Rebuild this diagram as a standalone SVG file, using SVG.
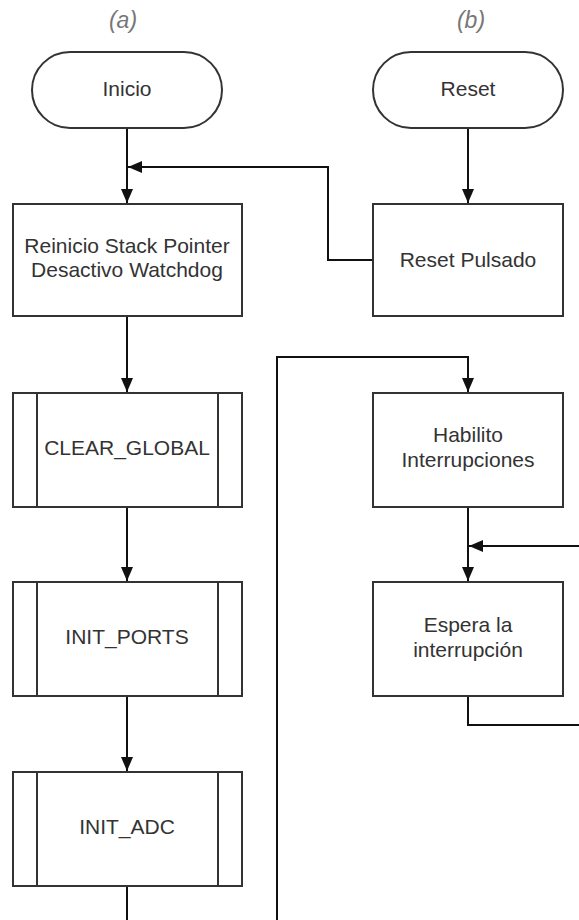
<svg xmlns="http://www.w3.org/2000/svg" width="579" height="920" viewBox="0 0 579 920">
<defs>
<style>
.box{fill:#fff;stroke:#333;stroke-width:2}
.ln{fill:none;stroke:#111;stroke-width:2}
.t{font-family:"Liberation Sans",Arial,sans-serif;font-size:21px;fill:#333;text-anchor:middle}
.cap{font-family:"Liberation Sans",Arial,sans-serif;font-size:23px;font-style:italic;fill:#777;text-anchor:middle}
</style>
<marker id="arr" viewBox="0 0 14 12" refX="14" refY="6" markerWidth="14" markerHeight="12" markerUnits="userSpaceOnUse" orient="auto">
<path d="M0,0 L14,6 L0,12 z" fill="#111"/>
</marker>
</defs>
<rect width="579" height="920" fill="#fff"/>
<text class="cap" x="123" y="28">(a)</text>
<text class="cap" x="471" y="28">(b)</text>

<g id="connectors">
<line class="ln" x1="127" y1="128" x2="127" y2="203" marker-end="url(#arr)"/>
<line class="ln" x1="468" y1="128" x2="468" y2="203" marker-end="url(#arr)"/>
<polyline class="ln" points="373,260 328,260 328,167 128,167" marker-end="url(#arr)"/>
<line class="ln" x1="127" y1="316" x2="127" y2="392" marker-end="url(#arr)"/>
<line class="ln" x1="127" y1="507" x2="127" y2="581" marker-end="url(#arr)"/>
<line class="ln" x1="127" y1="696" x2="127" y2="771" marker-end="url(#arr)"/>
<line class="ln" x1="127" y1="886" x2="127" y2="920"/>
<polyline class="ln" points="277,920 277,357 468,357 468,392" marker-end="url(#arr)"/>
<line class="ln" x1="468" y1="507" x2="468" y2="581" marker-end="url(#arr)"/>
<line class="ln" x1="579" y1="546" x2="469" y2="546" marker-end="url(#arr)"/>
<polyline class="ln" points="468,696 468,725 579,725"/>
</g>

<g id="inicio">
<rect class="box" x="32" y="52" width="190" height="76" rx="38" ry="38"/>
<text class="t" x="127" y="96">Inicio</text>
</g>
<g id="reset">
<rect class="box" x="373" y="52" width="190" height="76" rx="38" ry="38"/>
<text class="t" x="468" y="96">Reset</text>
</g>
<g id="reinicio">
<rect class="box" x="13" y="204" width="229" height="112"/>
<text class="t" x="127" y="253">Reinicio Stack Pointer</text>
<text class="t" x="127" y="277">Desactivo Watchdog</text>
</g>
<g id="reset-pulsado">
<rect class="box" x="373" y="204" width="190" height="112"/>
<text class="t" x="468" y="267">Reset Pulsado</text>
</g>
<g id="clear-global">
<rect class="box" x="13" y="393" width="229" height="114"/>
<line class="box" x1="37" y1="393" x2="37" y2="507"/>
<line class="box" x1="218" y1="393" x2="218" y2="507"/>
<text class="t" x="127" y="455">CLEAR_GLOBAL</text>
</g>
<g id="habilito">
<rect class="box" x="373" y="393" width="190" height="114"/>
<text class="t" x="468" y="442">Habilito</text>
<text class="t" x="468" y="467">Interrupciones</text>
</g>
<g id="init-ports">
<rect class="box" x="13" y="582" width="229" height="114"/>
<line class="box" x1="37" y1="582" x2="37" y2="696"/>
<line class="box" x1="218" y1="582" x2="218" y2="696"/>
<text class="t" x="127" y="644">INIT_PORTS</text>
</g>
<g id="espera">
<rect class="box" x="373" y="582" width="190" height="114"/>
<text class="t" x="468" y="632">Espera la</text>
<text class="t" x="468" y="657">interrupción</text>
</g>
<g id="init-adc">
<rect class="box" x="13" y="772" width="229" height="114"/>
<line class="box" x1="37" y1="772" x2="37" y2="886"/>
<line class="box" x1="218" y1="772" x2="218" y2="886"/>
<text class="t" x="127" y="834">INIT_ADC</text>
</g>
</svg>
